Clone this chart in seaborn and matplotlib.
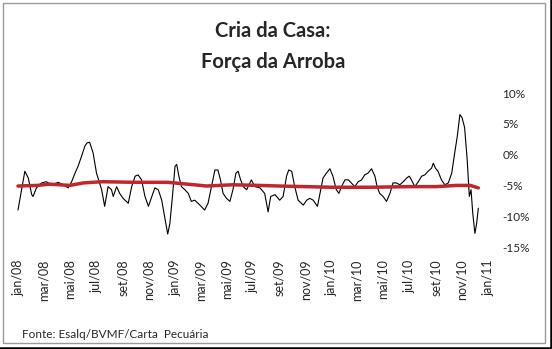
import matplotlib
matplotlib.use("Agg")
import matplotlib.pyplot as plt
import matplotlib.dates as mdates
import pandas as pd
import seaborn as sns
from matplotlib.patches import Rectangle
from matplotlib.lines import Line2D

# Força da arroba (%), série semanal aproximada
forca_datas = [
    "2008-01-01", "2008-01-17", "2008-01-25", "2008-02-02", "2008-02-05", "2008-02-13",
    "2008-02-25", "2008-03-07", "2008-03-19", "2008-04-04", "2008-04-15", "2008-04-27",
    "2008-05-05", "2008-05-13", "2008-05-20", "2008-05-28", "2008-06-05", "2008-06-10",
    "2008-06-16", "2008-06-24", "2008-07-02", "2008-07-14", "2008-07-21", "2008-07-29",
    "2008-08-06", "2008-08-10", "2008-08-18", "2008-08-25", "2008-09-02", "2008-09-14",
    "2008-09-22", "2008-09-30", "2008-10-07", "2008-10-15", "2008-10-23", "2008-10-31",
    "2008-11-08", "2008-11-15", "2008-11-23", "2008-12-01", "2008-12-09", "2008-12-15",
    "2008-12-20", "2008-12-26", "2009-01-01", "2009-01-05", "2009-01-10", "2009-01-16",
    "2009-01-24", "2009-02-01", "2009-02-08", "2009-02-16", "2009-02-28", "2009-03-11",
    "2009-03-19", "2009-03-27", "2009-04-04", "2009-04-11", "2009-04-17", "2009-04-23",
    "2009-05-01", "2009-05-09", "2009-05-16", "2009-05-23", "2009-05-28", "2009-06-03",
    "2009-06-09", "2009-06-17", "2009-06-28", "2009-07-06", "2009-07-18", "2009-07-29",
    "2009-08-06", "2009-08-12", "2009-08-22", "2009-09-02", "2009-09-10", "2009-09-18",
    "2009-09-23", "2009-09-30", "2009-10-07", "2009-10-15", "2009-10-27", "2009-11-04",
    "2009-11-11", "2009-11-19", "2009-11-29", "2009-12-05", "2009-12-12", "2009-12-20",
    "2009-12-28", "2010-01-04", "2010-01-12", "2010-01-18", "2010-01-24", "2010-02-01",
    "2010-02-09", "2010-02-16", "2010-02-24", "2010-03-04", "2010-03-12", "2010-03-19",
    "2010-03-27", "2010-04-04", "2010-04-12", "2010-04-17", "2010-04-23", "2010-05-01",
    "2010-05-09", "2010-05-17", "2010-05-24", "2010-06-01", "2010-06-09", "2010-06-17",
    "2010-06-25", "2010-07-01", "2010-07-06", "2010-07-14", "2010-07-22", "2010-07-30",
    "2010-08-06", "2010-08-14", "2010-08-22", "2010-08-26", "2010-08-31", "2010-09-06",
    "2010-09-14", "2010-09-22", "2010-09-30", "2010-10-08", "2010-10-15", "2010-10-21",
    "2010-10-27", "2010-11-01", "2010-11-07", "2010-11-13", "2010-11-18", "2010-11-22",
    "2010-11-26", "2010-12-01", "2010-12-05", "2010-12-09",
]
forca_valores = [
    -9.0, -2.7, -3.8, -6.5, -6.8, -5.4,
    -4.6, -4.4, -4.9, -4.5, -4.9, -5.4,
    -4.4, -3.0, -1.9, -0.3, 1.4, 1.9,
    2.0, 0.3, -3.0, -5.7, -8.4, -5.2,
    -5.7, -6.8, -5.2, -6.3, -7.1, -7.9,
    -5.2, -3.5, -3.3, -4.1, -6.8, -8.4,
    -6.8, -5.4, -5.7, -7.4, -10.6, -12.9,
    -11.2, -6.8, -1.9, -1.6, -3.5, -5.2,
    -5.7, -6.3, -7.6, -7.4, -8.2, -9.0,
    -7.9, -5.2, -2.5, -2.5, -4.1, -6.3,
    -7.1, -7.6, -5.7, -3.0, -2.7, -4.1,
    -5.2, -5.7, -4.1, -5.2, -5.4, -6.3,
    -9.3, -6.8, -6.5, -7.4, -6.8, -3.5,
    -2.5, -2.7, -5.2, -7.4, -8.2, -7.4,
    -7.1, -7.4, -8.4, -6.3, -3.8, -3.0,
    -2.3, -3.5, -5.7, -6.3, -5.2, -4.1,
    -4.1, -4.6, -5.2, -4.4, -4.1, -3.3,
    -3.0, -2.3, -3.5, -5.2, -6.3, -6.8,
    -7.6, -6.3, -4.6, -4.6, -4.9, -4.4,
    -3.8, -3.5, -4.1, -5.2, -4.4, -3.5,
    -3.3, -2.7, -2.2, -1.4, -2.2, -2.7,
    -4.1, -4.9, -4.6, -3.0, 0.3, 3.0,
    6.5, 6.0, 4.4, -0.8, -6.8, -5.7,
    -9.5, -12.8, -11.2, -8.7,
]

# Média do período (%)
media_datas = [
    "2008-01-01", "2008-02-15", "2008-03-15", "2008-05-01", "2008-06-01", "2008-07-15",
    "2008-10-01", "2008-12-15", "2009-02-15", "2009-03-15", "2009-05-15", "2009-07-15",
    "2009-09-01", "2009-11-01", "2010-01-01", "2010-04-01", "2010-07-01", "2010-09-01",
    "2010-10-20", "2010-11-20", "2010-12-09",
]
media_valores = [
    -5.1, -5.0, -4.8, -5.0, -4.6, -4.4,
    -4.5, -4.5, -4.9, -5.1, -4.9, -5.0,
    -5.1, -5.2, -5.3, -5.3, -5.2, -5.2,
    -5.0, -5.0, -5.4,
]

meses_datas = [
    "2008-01-01", "2008-03-01", "2008-05-01", "2008-07-01", "2008-09-01", "2008-11-01",
    "2009-01-01", "2009-03-01", "2009-05-01", "2009-07-01", "2009-09-01", "2009-11-01",
    "2010-01-01", "2010-03-01", "2010-05-01", "2010-07-01", "2010-09-01", "2010-11-01",
    "2011-01-01",
]
meses_rotulos = [
    "jan/08", "mar/08", "mai/08", "jul/08", "set/08", "nov/08",
    "jan/09", "mar/09", "mai/09", "jul/09", "set/09", "nov/09",
    "jan/10", "mar/10", "mai/10", "jul/10", "set/10", "nov/10",
    "jan/11",
]
y_ticks = [-15, -10, -5, 0, 5, 10]

sns.set_style("white")
plt.rcParams["font.family"] = ["Lato", "DejaVu Sans"]

W, H = 552, 349
fig = plt.figure(figsize=(W / 100, H / 100), dpi=100)
ax = fig.add_axes([14 / W, 1 - 247 / H, (490 - 14) / W, (247 - 93) / H])

forca = pd.DataFrame({"data": pd.to_datetime(forca_datas), "valor": forca_valores})
media = pd.DataFrame({"data": pd.to_datetime(media_datas), "valor": media_valores})

sns.lineplot(data=forca, x="data", y="valor", ax=ax, color="black", linewidth=0.8)
sns.lineplot(data=media, x="data", y="valor", ax=ax, color="#C0262C", linewidth=2.5)

inicio = mdates.date2num(pd.Timestamp("2008-01-01"))
ax.set_xlim(inicio - 9.3, inicio + 1100.2)
ax.set_ylim(-15, 10)

ax.set_xticks(pd.to_datetime(meses_datas))
ax.set_xticklabels(meses_rotulos, rotation=90, fontsize=9)
ax.yaxis.tick_right()
ax.set_yticks(y_ticks)
ax.set_yticklabels([f"{v}%" for v in y_ticks], fontsize=8.5, ha="left")
ax.tick_params(axis="x", length=0, pad=9)
ax.tick_params(axis="y", length=0, pad=9)
ax.set_xlabel("")
ax.set_ylabel("")
for s in ax.spines.values():
    s.set_visible(False)
ax.patch.set_alpha(0)

fig.text(273 / W, 1 - 31 / H, "Cria da Casa:", ha="center", va="center",
         fontsize=14.5, fontweight="bold")
fig.text(273 / W, 1 - 62 / H, "Força da Arroba", ha="center", va="center",
         fontsize=14.5, fontweight="bold")
fig.text(22 / W, 1 - 334 / H, "Fonte: Esalq/BVMF/Carta  Pecuária", ha="left",
         va="center", fontsize=8.5)

# moldura do gráfico com sombra escura
fig.patches.append(Rectangle((3 / W, 6 / H), 542 / W, 340 / H, transform=fig.transFigure,
                             fill=False, edgecolor="#9a9a9a", linewidth=1))
fig.lines.append(Line2D([0, 1], [1.2 / H, 1.2 / H], transform=fig.transFigure,
                        color="black", linewidth=1.8))
fig.lines.append(Line2D([1 - 1.2 / W, 1 - 1.2 / W], [0, 1], transform=fig.transFigure,
                        color="black", linewidth=1.8))

fig.savefig("out.png", dpi=100)
